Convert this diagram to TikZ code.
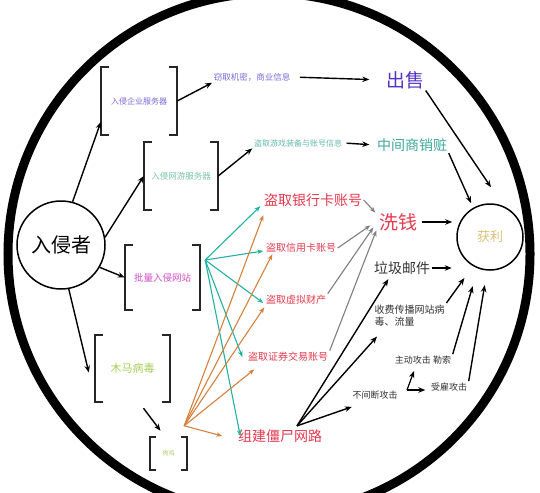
\documentclass[tikz,border=0pt]{standalone}
\usepackage{fontspec}
\setmainfont{Noto Sans CJK SC}
\usetikzlibrary{arrows.meta}
\definecolor{cpurple}{HTML}{7A6AD8}
\definecolor{csell}{HTML}{5535C8}
\definecolor{cteal}{HTML}{3FA89C}
\definecolor{cteallight}{HTML}{7CC4A8}
\definecolor{cred}{HTML}{E43A4E}
\definecolor{cmag}{HTML}{D24FC6}
\definecolor{cgreen}{HTML}{A6CE55}
\definecolor{cgold}{HTML}{D9C277}
\definecolor{tealarr}{HTML}{22B2A4}
\definecolor{orarr}{HTML}{D4823E}
\definecolor{grarr}{HTML}{7F7F7F}
\definecolor{ctext}{HTML}{333333}
\newcommand{\myfs}[1]{\fontsize{#1}{#1}\selectfont}
\tikzset{
  ar/.style={-{Stealth[length=7pt,width=5.5pt]}, line width=1.4pt, black},
  tar/.style={-{Stealth[length=6pt,width=4.5pt]}, line width=1.1pt, tealarr},
  oar/.style={-{Stealth[length=6pt,width=4.5pt]}, line width=1.1pt, orarr},
  gar/.style={-{Stealth[length=6pt,width=4.5pt]}, line width=1.1pt, grarr},
  brkbox/.style={inner sep=0pt},
  brkline/.style={line width=2pt, draw=black!85},
  txt/.style={inner sep=1.5pt},
}
\begin{document}
\begin{tikzpicture}[x=1pt,y=-1pt]
\useasboundingbox (0,0) rectangle (540,492);
\fill[white] (0,0) rectangle (540,492);
\begin{scope}
\clip (0,0) rectangle (540,492);
\draw[line width=9pt] (269,254) circle [radius=261pt];
\end{scope}

% attacker
\node[circle, draw, line width=1.5pt, minimum size=88pt, inner sep=0pt, font=\myfs{20}] (att) at (61,245) {入侵者};

% bracket boxes
\node[brkbox, minimum width=76pt, minimum height=68pt, text=cpurple, font=\myfs{8}] (b1) at (139,101) {入侵企业服务器};
\node[brkbox, minimum width=74pt, minimum height=68pt, text=cteallight, font=\myfs{8.5}] (b2) at (181,176) {入侵网游服务器};
\node[brkbox, minimum width=75pt, minimum height=65pt, text=cmag, font=\myfs{9.5}] (b3) at (162.5,277.5) {批量入侵网站};
\node[brkbox, minimum width=75pt, minimum height=67pt, text=cgreen, font=\myfs{11}] (b4) at (132.5,368.5) {木马病毒};
\node[brkbox, minimum width=37pt, minimum height=33pt, text=cgreen, font=\myfs{6}] (b5) at (168.5,453.5) {肉鸡};

\foreach \b/\t in {b1/8,b2/8,b3/8,b4/8,b5/6}{
  \draw[brkline] ([xshift=\t pt]\b.north west) -| (\b.south west) -- ([xshift=\t pt]\b.south west);
  \draw[brkline] ([xshift=-\t pt]\b.north east) -| (\b.south east) -- ([xshift=-\t pt]\b.south east);
}

% texts
\node[txt, text=cpurple, font=\myfs{8.5}] (t1) at (252,77) {窃取机密，商业信息};
\node[txt, text=csell, font=\myfs{19}] (sell) at (405,80) {出售};
\node[txt, text=cteal!80, font=\myfs{8}] (t2) at (298,143) {盗取游戏装备与账号信息};
\node[txt, text=cteal, font=\myfs{14}] (mid) at (412,145) {中间商销赃};
\node[txt, text=cred, font=\myfs{14}] (bank) at (313,200) {盗取银行卡账号};
\node[txt, text=cred, font=\myfs{19}] (wash) at (398,222) {洗钱};
\node[circle, draw, line width=1.5pt, minimum size=66pt, inner sep=0pt, text=cgold, font=\myfs{13}] (gain) at (490,237) {获利};
\node[txt, text=cred, font=\myfs{10}] (credit) at (301,248) {盗取信用卡账号};
\node[txt, text=cred, font=\myfs{10}] (virt) at (296,300) {盗取虚拟财产};
\node[txt, text=cred, font=\myfs{10}] (sec) at (288,357) {盗取证券交易账号};
\node[txt, text=cred, font=\myfs{14}] (bot) at (280,436) {组建僵尸网路};
\node[txt, text=ctext, font=\myfs{14}] (spam) at (402,268) {垃圾邮件};
\node[txt, text=ctext, font=\fontsize{10}{12}\selectfont, align=left, anchor=north west] (fee) at (373,303) {收费传播网站病\\毒、流量};
\node[txt, text=ctext, font=\myfs{9}] (active) at (423,360) {主动攻击 勒索};
\node[txt, text=ctext, font=\myfs{9}] (hired) at (449,387) {受雇攻击};
\node[txt, text=ctext, font=\myfs{9}] (cont) at (375,395) {不间断攻击};

% attacker arrows
\draw[ar] (att.75) -- ([yshift=-21pt]b1.west);
\draw[ar] (att.10) -- (b2.west);
\draw[ar] (att.-30) -- (b3.west);
\draw[ar] (att.-80) -- ([xshift=-6pt,yshift=-4pt]b4.west);
\draw[ar] ([xshift=11pt,yshift=-6pt]b4.south) -- ([xshift=-8pt,yshift=6pt]b5.north);

% top chains
\draw[ar] (b1.east) -- (t1.south west);
\draw[ar, shorten <=8pt, shorten >=15pt] (t1.east) -- (sell.west);
\draw[ar] (b2.east) -- (t2.south west);
\draw[ar, shorten <=3pt, shorten >=6pt] (t2.east) -- (mid.west);
\draw[ar] (sell.south east) -- ([xshift=1pt,yshift=16pt]gain.north);
\draw[ar, shorten >=5pt] (mid.south east) -- (gain.120);
\draw[ar, shorten <=3pt, shorten >=4pt] (wash.east) -- (wash.east -| gain.west);
\draw[ar] (spam.east) -- ([xshift=20pt]spam.east);
\draw[ar] (fee.north east) -- ++(18,-25);
\draw[ar] (active.north east) -- ++(20,-68);
\draw[ar] (hired.north east) -- ++(16,-96);

% zigzag
\coordinate (zz) at (407,390);
\draw[ar, line width=1.2pt] (zz) -- ++(7,-19);
\draw[ar, line width=1.2pt, shorten >=4pt] (zz) -- (zz -| hired.west);

% gray into wash
\draw[gar] (bank.east) -- ([xshift=-2pt,yshift=-1pt]wash.north west);
\draw[gar] (credit.east) -- ([xshift=-7pt,yshift=7pt]wash.south west);
\draw[gar] (virt.north east) -- ([xshift=-4pt,yshift=5pt]wash.south west);
\draw[gar] (sec.north east) -- ([xshift=-1pt,yshift=2pt]wash.south west);

% botnet arrows
\coordinate (bo) at ([xshift=17pt,yshift=2pt]bot.north);
\draw[ar] (bo) -- ([xshift=16pt,yshift=-3pt]spam.south west);
\draw[ar] (bo) -- ([xshift=4pt,yshift=-9pt]fee.south west);
\draw[ar] (bo) -- ([xshift=1pt,yshift=-6pt]cont.south west);

% teal arrows
\coordinate (to) at ([xshift=5pt,yshift=17.5pt]b3.east);
\draw[tar] (to) -- ([xshift=-2pt,yshift=2pt]bank.south west);
\draw[tar] (to) -- ([xshift=-1pt,yshift=-3pt]credit.west);
\draw[tar] (to) -- ([xshift=-1pt,yshift=-3pt]virt.west);
\draw[tar] (to) -- ([xshift=-4pt]sec.west);
\draw[tar] (to) -- ([xshift=4pt]bot.west);

% orange arrows
\coordinate (oo) at ([xshift=-3pt,yshift=11pt]b5.north east);
\draw[oar] (oo) -- ([xshift=1pt,yshift=-7pt]bank.south west);
\draw[oar] (oo) -- ([xshift=8pt]credit.south west);
\draw[oar] (oo) -- ([yshift=-1pt]virt.south west);
\draw[oar] (oo) -- ([xshift=8pt,yshift=-6pt]sec.south west);
\draw[oar] (oo) -- ([xshift=-14pt]bot.west);
\end{tikzpicture}
\end{document}
